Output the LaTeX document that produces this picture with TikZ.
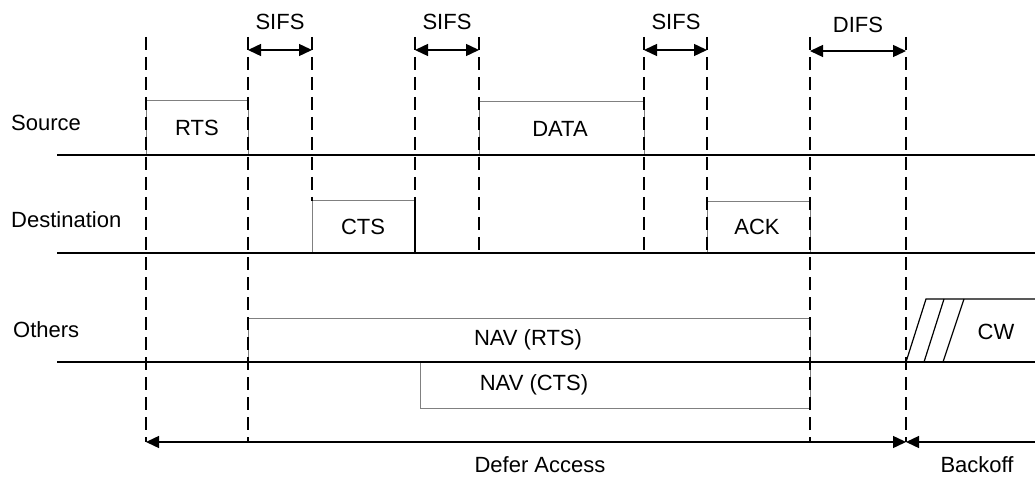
\documentclass[tikz,border=0pt]{standalone}
\usepackage{fontspec}
\setmainfont{Liberation Sans}
\usetikzlibrary{arrows.meta}
\begin{document}
\begin{tikzpicture}[x=1pt,y=-1pt,
  vdash/.style={line width=1.6pt, dash pattern=on 13pt off 7pt},
  baseline/.style={line width=1.4pt},
  pktbox/.style={line width=1pt, draw=black!50},
  pktsolid/.style={line width=1.3pt, draw=black},
  tip/.style={Triangle[length=13pt,width=12pt]},
  span/.style={line width=1.4pt, {Triangle[length=13pt,width=12pt]}-{Triangle[length=13pt,width=12pt]}},
  oneway/.style={line width=1.4pt, -{Triangle[length=13pt,width=12pt]}},
  lbl/.style={font=\fontsize{22}{26}\selectfont, inner sep=0pt},
]
\useasboundingbox (0,0) rectangle (1035,478);

% ---- packet boxes (faint outlines, as in the scan)
\draw[pktbox] (146,155) -- (146,101) -- (248,101) -- (248,155);
\draw[pktbox] (479,155) -- (479,102) -- (644,102) -- (644,155);
\draw[pktbox] (312,253) -- (312,201) -- (415,201);
\draw[pktsolid] (415,201) -- (415,253);
\draw[pktbox] (707,253) -- (707,202) -- (810,202) -- (810,253);
\draw[pktbox] (248,362) -- (248,318) -- (810,318) -- (810,362);
\draw[pktbox] (420,362) -- (420,408) -- (810,408) -- (810,362);

% ---- dashed time marks
\coordinate (v1t) at (146,37);  \coordinate (v1b) at (146,442);
\coordinate (v2t) at (248,37);  \coordinate (v2b) at (248,442);
\coordinate (v3t) at (312,37);  \coordinate (v3b) at (312,201);
\coordinate (v4t) at (415,37);  \coordinate (v4b) at (415,201);
\coordinate (v5t) at (479,37);  \coordinate (v5b) at (479,253);
\coordinate (v6t) at (644,37);  \coordinate (v6b) at (644,253);
\coordinate (v7t) at (707,37);  \coordinate (v7b) at (707,253);
\coordinate (v8t) at (810,37);  \coordinate (v8b) at (810,442);
\coordinate (v9t) at (906,37);  \coordinate (v9b) at (906,442);
\foreach \i in {1,...,9} { \draw[vdash] (v\i t) -- (v\i b); }

% ---- station time lines
\coordinate (srcL) at (57,155);  \coordinate (srcR) at (1035,155);
\coordinate (dstL) at (57,253);  \coordinate (dstR) at (1035,253);
\coordinate (othL) at (57,362);  \coordinate (othR) at (1035,362);
\draw[baseline] (srcL) -- (srcR);
\draw[baseline] (dstL) -- (dstR);
\draw[baseline] (othL) -- (othR);

% ---- interframe space arrows
\coordinate (s1a) at (248,50); \coordinate (s1b) at (312,50);
\coordinate (s2a) at (415,50); \coordinate (s2b) at (479,50);
\coordinate (s3a) at (644,50); \coordinate (s3b) at (707,50);
\coordinate (d1a) at (810,51); \coordinate (d1b) at (906,51);
\draw[span] (s1a) -- (s1b);
\draw[span] (s2a) -- (s2b);
\draw[span] (s3a) -- (s3b);
\draw[span] (d1a) -- (d1b);
\node[lbl] (sifs1) at (280,22) {SIFS};
\node[lbl] (sifs2) at (447,22) {SIFS};
\node[lbl] (sifs3) at (676,22) {SIFS};
\node[lbl] (difs)  at (858,25) {DIFS};

% ---- defer / backoff arrows
\coordinate (defL) at (146,442); \coordinate (defR) at (906,442);
\coordinate (bkR) at (1035,442);
\draw[span] (defL) -- (defR);
\draw[oneway] (bkR) -- (defR);
\node[lbl] (defer) at (540,465) {Defer Access};
\node[lbl] (backoff) at (977,465) {Backoff};

% ---- contention window
\draw[line width=1.2pt] (906,362) -- (926,299) -- (1035,299);
\draw[line width=1.2pt] (924,362) -- (944,299);
\draw[line width=1.2pt] (943,362) -- (964,299);
\node[lbl] (cw) at (996,332) {CW};

% ---- station labels
\node[lbl, anchor=west] (src) at (11,123) {Source};
\node[lbl, anchor=west] (dst) at (11,220) {Destination};
\node[lbl, anchor=west] (oth) at (13,330) {Others};

% ---- frame labels
\node[lbl] (rts)  at (197,128) {RTS};
\node[lbl] (data) at (560,129) {DATA};
\node[lbl] (cts)  at (363,227) {CTS};
\node[lbl] (ack)  at (757,227) {ACK};
\node[lbl] (navr) at (528,340) {NAV (RTS)};
\node[lbl] (navc) at (534,385) {NAV (CTS)};
\end{tikzpicture}
\end{document}
